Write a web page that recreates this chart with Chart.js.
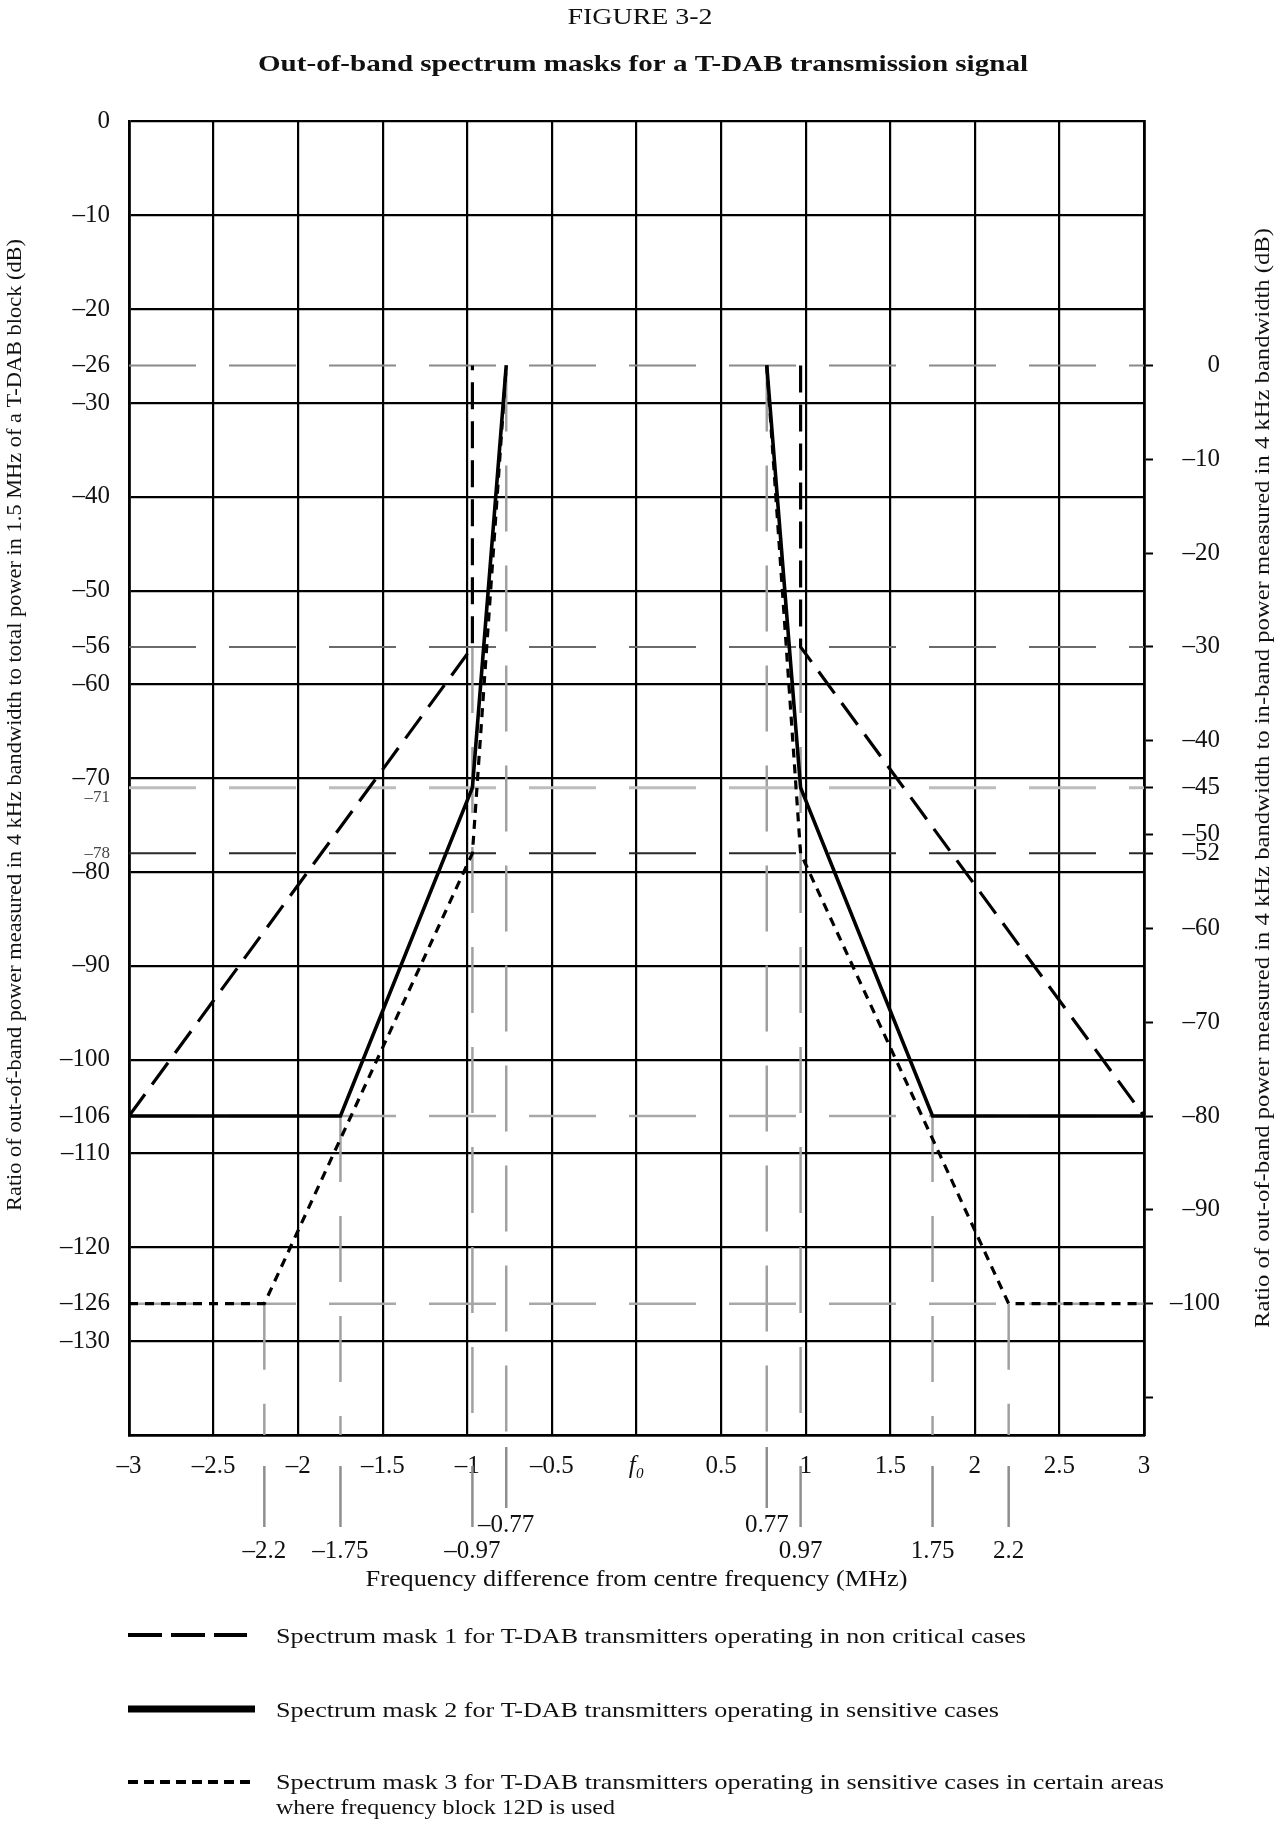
<!DOCTYPE html>
<html>
<head>
<meta charset="utf-8">
<title>Out-of-band spectrum masks for a T-DAB transmission signal</title>
<script src="https://cdn.jsdelivr.net/npm/chart.js@4.4.1/dist/chart.umd.min.js"></script>
<style>
  html, body { margin: 0; padding: 0; background: #fff; }
  #wrap { width: 1281px; height: 1828px; }
</style>
</head>
<body>
<div id="wrap"><canvas id="maskChart" width="1281" height="1828"></canvas></div>
<script>
// axis ticks
const freqTicks = [-3, -2.5, -2, -1.5, -1, -0.5, 0, 0.5, 1, 1.5, 2, 2.5, 3];
const levelTicks = [0, -10, -20, -26, -30, -40, -50, -56, -60, -70, -71, -78, -80, -90, -100, -106, -110, -120, -126, -130];
const inBandTicks = [0, -10, -20, -30, -40, -45, -50, -52, -60, -70, -80, -90, -100, -110];
const inBandOffset = 26; // right scale reads 0 where the left one reads -26
const levelMin = -140;
const levelMax = 0;

// mask 1: non critical cases
const mask1Freq  = [-3, -0.97, -0.97, null, 0.97, 0.97, 3];
const mask1Level = [-106, -56, -26, null, -26, -56, -106];
// mask 2: sensitive cases
const mask2Freq  = [-3, -1.75, -0.97, -0.77, null, 0.77, 0.97, 1.75, 3];
const mask2Level = [-106, -106, -71, -26, null, -26, -71, -106, -106];
// mask 3: sensitive cases, block 12D
const mask3Freq  = [-3, -2.2, -0.97, -0.77, null, 0.77, 0.97, 2.2, 3];
const mask3Level = [-126, -126, -78, -26, null, -26, -78, -126, -126];

// breakpoint guide lines
const guideLevels = [-26, -56, -71, -78, -106, -126];
const guideFreqs = [-2.2, -1.75, -0.97, -0.77, 0.77, 0.97, 1.75, 2.2];
const guideFreqTop = [-126, -106, -56, -26, -26, -56, -106, -126];
const guideFreqLabels = ['–2.2', '–1.75', '–0.97', '–0.77', '0.77', '0.97', '1.75', '2.2'];

const legendTexts = [
  'Spectrum mask 1 for T-DAB transmitters operating in non critical cases',
  'Spectrum mask 2 for T-DAB transmitters operating in sensitive cases',
  'Spectrum mask 3 for T-DAB transmitters operating in sensitive cases in certain areas',
  'where frequency block 12D is used'
];

const SERIF = '"Liberation Serif", "Times New Roman", "DejaVu Serif", serif';

// styles for the horizontal guides
const levelGuideStyle = {
  '-26': { color: '#8a8a8a', width: 2 },
  '-56': { color: '#6a6a6a', width: 2 },
  '-71': { color: '#bdbdbd', width: 3 },
  '-78': { color: '#2a2a2a', width: 2 },
  '-106': { color: '#a8a8a8', width: 2.5 },
  '-126': { color: '#a8a8a8', width: 2.5 }
};

function minusLabel(v) {
  if (v === 0) return '0';
  return (v < 0 ? '–' : '') + Math.abs(v);
}

function lineSet(freqs, levels, style) {
  return Object.assign({
    data: freqs.map((f, i) => ({ x: f === null ? 0 : f, y: levels[i] })),
    pointRadius: 0,
    pointHoverRadius: 0,
    fill: false,
    tension: 0,
    spanGaps: false,
    borderCapStyle: 'butt',
    borderJoinStyle: 'miter',
    xAxisID: 'x',
    yAxisID: 'y'
  }, style);
}

const datasets = [
  lineSet(mask1Freq, mask1Level, { borderColor: '#000', borderWidth: 3.2, borderDash: [27, 12] }),
  lineSet(mask2Freq, mask2Level, { borderColor: '#000', borderWidth: 3.6 }),
  lineSet(mask3Freq, mask3Level, { borderColor: '#000', borderWidth: 3.2, borderDash: [9, 7] })
];
guideLevels.forEach(lv => {
  const st = levelGuideStyle[String(lv)];
  datasets.push(lineSet([-3, 3], [lv, lv], { borderColor: st.color, borderWidth: st.width, borderDash: [67, 33] }));
});
guideFreqs.forEach((f, i) => {
  datasets.push(lineSet([f, f], [guideFreqTop[i], levelMin], { borderColor: '#a0a0a0', borderWidth: 2.5, borderDash: [66, 34] }));
});

function fitText(ctx, text, cx, cy, width, font, angle) {
  ctx.save();
  ctx.font = font;
  const w = ctx.measureText(text).width;
  ctx.translate(cx, cy);
  if (angle) ctx.rotate(angle);
  ctx.scale(width / w, 1);
  ctx.textAlign = 'center';
  ctx.textBaseline = 'middle';
  ctx.fillStyle = '#111';
  ctx.fillText(text, 0, 0);
  ctx.restore();
}

function strokeSample(ctx, x0, x1, y, width, dash) {
  ctx.save();
  ctx.strokeStyle = '#000';
  ctx.lineWidth = width;
  ctx.lineCap = 'butt';
  ctx.setLineDash(dash);
  ctx.beginPath();
  ctx.moveTo(x0, y);
  ctx.lineTo(x1, y);
  ctx.stroke();
  ctx.restore();
}

const decorations = {
  id: 'decorations',
  afterDraw(chart) {
    const ctx = chart.ctx;
    const area = chart.chartArea;
    const xs = chart.scales.x;

    // headings
    fitText(ctx, 'FIGURE 3-2', 640, 18, 145, '24px ' + SERIF);
    fitText(ctx, 'Out-of-band spectrum masks for a T-DAB transmission signal', 643, 65, 770, 'bold 24px ' + SERIF);

    // axis titles
    fitText(ctx, 'Ratio of out-of-band power measured in 4 kHz bandwidth to total power in 1.5 MHz of a T-DAB block (dB)',
      15, 725, 972, '22px ' + SERIF, -Math.PI / 2);
    fitText(ctx, 'Ratio of out-of-band power measured in 4 kHz bandwidth to in-band power measured in 4 kHz bandwidth (dB)',
      1263, 778, 1100, '22px ' + SERIF, -Math.PI / 2);
    fitText(ctx, 'Frequency difference from centre frequency (MHz)', (area.left + area.right) / 2, area.bottom + 145, 542, '24px ' + SERIF);

    // leader lines and breakpoint labels under the axis
    ctx.save();
    ctx.font = '25px ' + SERIF;
    ctx.textAlign = 'center';
    ctx.textBaseline = 'middle';
    ctx.fillStyle = '#111';
    guideFreqs.forEach((f, i) => {
      const px = xs.getPixelForValue(f);
      const upper = Math.abs(f) === 0.77;
      const top = area.bottom + (upper ? 12 : 31);
      ctx.strokeStyle = '#8e8e8e';
      ctx.lineWidth = 2.5;
      ctx.beginPath();
      ctx.moveTo(px, top);
      ctx.lineTo(px, top + 61);
      ctx.stroke();
      ctx.fillText(guideFreqLabels[i], px, area.bottom + (upper ? 90 : 116));
    });
    ctx.restore();

    // legend
    strokeSample(ctx, 128, 247, 1635, 4, [34, 9]);
    strokeSample(ctx, 128, 255, 1709, 7, []);
    strokeSample(ctx, 128, 253, 1782, 4, [10, 6]);
    const legendWidths = [750, 723, 888, 339];
    const legendY = [1637, 1711, 1783, 1808];
    legendTexts.forEach((t, i) => {
      fitText(ctx, t, 276 + legendWidths[i] / 2, legendY[i], legendWidths[i], '22px ' + SERIF);
    });
  }
};

Chart.defaults.font.family = SERIF;
Chart.defaults.color = '#111';

new Chart(document.getElementById('maskChart'), {
  type: 'line',
  data: { datasets: datasets },
  options: {
    responsive: false,
    animation: false,
    devicePixelRatio: 1,
    layout: { padding: { top: 121.5, left: 0, right: 61, bottom: 0 } },
    plugins: {
      legend: { display: false },
      tooltip: { enabled: false },
      title: { display: false }
    },
    scales: {
      x: {
        type: 'linear',
        min: -3,
        max: 3,
        afterBuildTicks: s => { s.ticks = freqTicks.map(v => ({ value: v })); },
        afterFit: s => { s.height = 1828 - 1435; },
        grid: { color: '#000', lineWidth: 2.2, drawTicks: false },
        border: { color: '#000', width: 2.8 },
        ticks: {
          padding: 16,
          autoSkip: false,
          maxRotation: 0,
          color: '#111',
          font: ctx => ({ size: 25, family: SERIF, style: ctx.tick && ctx.tick.value === 0 ? 'italic' : 'normal' }),
          callback: v => (v === 0 ? 'f₀' : minusLabel(v))
        }
      },
      y: {
        type: 'linear',
        position: 'left',
        min: levelMin,
        max: levelMax,
        afterBuildTicks: s => { s.ticks = levelTicks.map(v => ({ value: v })); },
        afterFit: s => { s.width = 129; },
        grid: {
          color: ctx => (ctx.tick && ctx.tick.value % 10 === 0 ? '#000' : 'rgba(0,0,0,0)'),
          lineWidth: 2.2,
          drawTicks: false
        },
        border: { color: '#000', width: 2.8 },
        ticks: {
          padding: 19,
          autoSkip: false,
          color: ctx => (ctx.tick && (ctx.tick.value === -71 || ctx.tick.value === -78) ? '#444' : '#111'),
          font: ctx => ({ size: ctx.tick && (ctx.tick.value === -71 || ctx.tick.value === -78) ? 17 : 25, family: SERIF }),
          callback: v => (v === -71 ? ['', minusLabel(v)] : minusLabel(v))
        }
      },
      y1: {
        type: 'linear',
        position: 'right',
        min: levelMin + inBandOffset,
        max: levelMax + inBandOffset,
        afterBuildTicks: s => { s.ticks = inBandTicks.map(v => ({ value: v })); },
        afterFit: s => { s.width = 1220 - 1144; },
        grid: { drawOnChartArea: false, drawTicks: true, tickLength: 9, tickWidth: 2, tickColor: '#000' },
        border: { color: '#000', width: 2.8 },
        ticks: {
          padding: 17,
          autoSkip: false,
          crossAlign: 'far',
          color: '#111',
          font: { size: 25, family: SERIF },
          callback: v => (v === -110 ? '' : minusLabel(v))
        }
      }
    }
  },
  plugins: [decorations]
});
</script>
</body>
</html>
